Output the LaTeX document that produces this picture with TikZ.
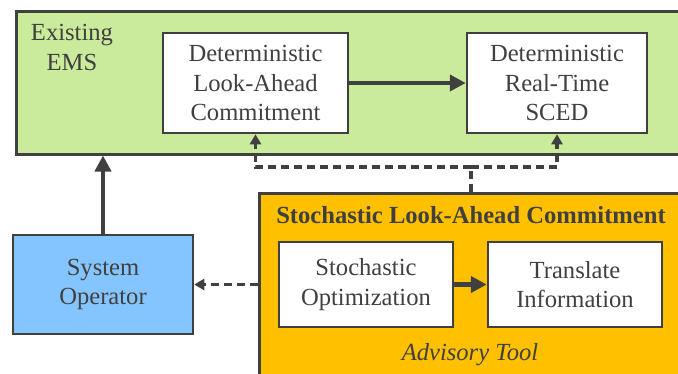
\documentclass[tikz,border=0pt]{standalone}
\usepackage{fontspec}
\setmainfont{Liberation Serif}
\usetikzlibrary{arrows.meta}
\definecolor{edge}{HTML}{404040}
\definecolor{emsgreen}{HTML}{CAEB9C}
\definecolor{opblue}{HTML}{85C5FF}
\definecolor{toolorange}{HTML}{FFC000}
\tikzset{
  panel/.style={draw=edge, line width=2.5pt, inner sep=0pt, anchor=north west},
  block/.style={draw=edge, line width=2.5pt, fill=white, inner sep=0pt, align=center, text=edge},
  label/.style={text=edge, align=center, inner sep=0pt},
  flow/.style={draw=edge, line width=4.5pt, -{Triangle[length=16pt,width=16pt]}},
  advice/.style={draw=edge, line width=3.6pt, dash pattern=on 8pt off 5pt, -{Triangle[length=10pt,width=11pt]}},
  feed/.style={draw=edge, line width=3.6pt, dash pattern=on 8pt off 5pt},
}
\begin{document}
\begin{tikzpicture}[x=1pt, y=-1pt, font=\fontsize{24.6}{29.5}\selectfont]
\useasboundingbox (0,0) rectangle (678,373);
\clip (0,0) rectangle (678,373);

% Existing EMS panel
\node[panel, fill=emsgreen, minimum width=690pt, minimum height=143pt] (ems) at (15,10) {};
\node[label] (emsname) at (72,47.5) {Existing\\EMS};
\node[block, minimum width=185pt, minimum height=100pt] (dlac) at (255.5,83) {Deterministic\\Look-Ahead\\Commitment};
\node[block, minimum width=180pt, minimum height=100pt] (drts) at (557,83) {Deterministic\\Real-Time\\SCED};

% System operator
\node[block, fill=opblue, minimum width=180pt, minimum height=99pt] (sysop) at (103,284.5) {System\\Operator};

% Stochastic advisory tool panel
\node[panel, fill=toolorange, minimum width=440pt, minimum height=200pt] (tool) at (258,192) {};
\node[label, font=\fontsize{24.6}{29.5}\selectfont\bfseries] (tooltitle) at (471,215) {Stochastic Look-Ahead Commitment};
\node[block, minimum width=174pt, minimum height=85pt] (stoch) at (366,284.5) {Stochastic\\Optimization};
\node[block, minimum width=174pt, minimum height=85pt] (transl) at (575,284.5) {Translate\\Information};
\node[label, font=\fontsize{24.6}{29.5}\selectfont\itshape] (advisory) at (470,355) {Advisory Tool};

% Solid flows
\draw[flow] (dlac.east) -- (drts.west);
\draw[flow] (stoch.east) -- (transl.west);
\draw[flow] (sysop.north) -- (sysop.north |- ems.south);

% Dashed advisory links
\coordinate (split) at (471,167);
\draw[feed] (split |- tool.north) -- (split);
\draw[advice] (split) -| (dlac.south);
\draw[advice] (split) -| (drts.south);
\draw[advice] (sysop.east -| tool.west) -- (sysop.east);
\end{tikzpicture}
\end{document}
